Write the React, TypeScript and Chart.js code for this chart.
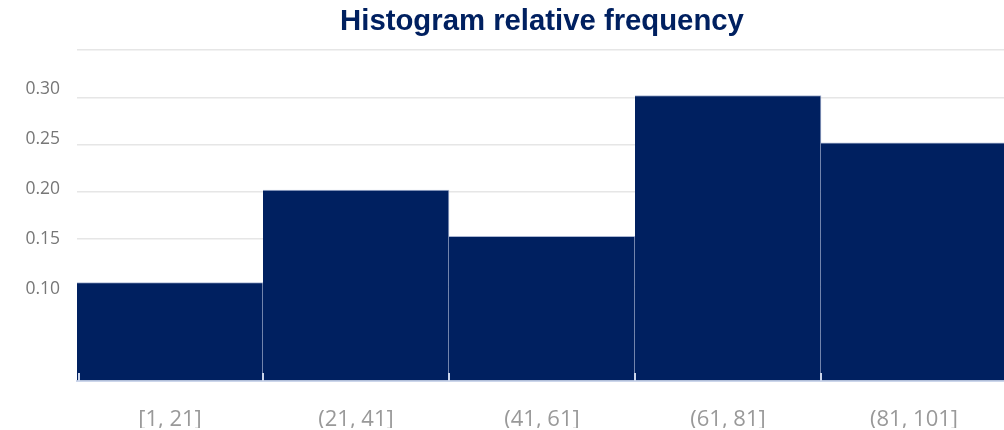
import React, { useEffect, useRef } from 'react';
import { Chart, registerables } from 'chart.js';

Chart.register(...registerables);

const categories = ['[1, 21]', '(21, 41]', '(41, 61]', '(61, 81]', '(81, 101]'];
const frequencies = [0.104, 0.202, 0.153, 0.302, 0.252];
const yTickLabels = [0.1, 0.15, 0.2, 0.25, 0.3];
const yMin = 0;
const yMax = 0.35;
const yStep = 0.05;
// label axis range (labels are spaced a little wider than the grid in the reference)
const labelAxisMin = 0.008;
const labelAxisMax = 0.339;

const navy = '#002060';
const axisColor = '#ccd6eb';

const insideTicks = {
  id: 'insideTicks',
  afterDraw(chart: any) {
    const xs = chart.scales.x;
    const ctx = chart.ctx;
    const half = (xs.getPixelForValue(1) - xs.getPixelForValue(0)) / 2;
    const y = chart.chartArea.bottom;
    ctx.save();
    ctx.strokeStyle = axisColor;
    ctx.lineWidth = 2;
    for (let i = 0; i <= categories.length; i++) {
      let px = xs.getPixelForValue(i) - half;
      if (i === 0) px += 2;
      ctx.beginPath();
      ctx.moveTo(px, y);
      ctx.lineTo(px, y - 8);
      ctx.stroke();
    }
    ctx.restore();
  },
};

export default function App() {
  const ref = useRef<HTMLCanvasElement | null>(null);
  useEffect(() => {
    document.body.style.margin = '0';
    document.body.style.overflow = 'hidden';
    const chart = new Chart(ref.current as HTMLCanvasElement, {
      type: 'bar',
      data: {
        labels: categories,
        datasets: [
          {
            data: frequencies,
            backgroundColor: navy,
            borderColor: 'rgba(150,165,200,0.8)',
            borderWidth: { top: 1, right: 1, left: 0, bottom: 0 },
            borderSkipped: false,
            categoryPercentage: 1,
            barPercentage: 1,
          },
        ],
      },
      options: {
        animation: false,
        responsive: true,
        maintainAspectRatio: false,
        layout: { padding: { left: 0, right: 0, top: 0, bottom: 2 } },
        plugins: {
          legend: { display: false },
          tooltip: { enabled: false },
          title: {
            display: true,
            fullSize: false,
            text: 'Histogram relative frequency',
            color: navy,
            font: { family: '"Liberation Sans", Arial, sans-serif', size: 29.3, weight: 'bold' },
            padding: { top: 4, bottom: 11 },
          },
        },
        scales: {
          x: {
            z: 1,
            grid: { display: false, drawTicks: false },
            border: { display: true, color: axisColor, width: 2 },
            ticks: {
              color: '#999999',
              font: { family: '"Open Sans", sans-serif', size: 22 },
              padding: 26,
            },
            afterFit: (s: any) => {
              s.height = 47;
            },
          },
          y: {
            position: 'left',
            min: yMin,
            max: yMax,
            grid: { color: '#e6e6e6', lineWidth: 1.5, drawTicks: false },
            border: { display: false },
            ticks: { stepSize: yStep, display: false },
            afterFit: (s: any) => {
              s.width = 0;
            },
          },
          yLabels: {
            position: 'left',
            min: labelAxisMin,
            max: labelAxisMax,
            grid: { display: false, drawTicks: false },
            border: { display: false },
            afterBuildTicks: (s: any) => {
              s.ticks = yTickLabels.map((v) => ({ value: v }));
            },
            ticks: {
              color: '#777777',
              font: { family: '"Open Sans", sans-serif', size: 17.5 },
              padding: 17,
              callback: (v: any) => Number(v).toFixed(2),
            },
            afterFit: (s: any) => {
              s.width = 77;
            },
          },
        },
      },
      plugins: [insideTicks],
    });
    return () => chart.destroy();
  }, []);
  return (
    <div style={{ position: 'fixed', left: 0, top: 0, width: 1007, height: 430, background: '#fff' }}>
      <canvas ref={ref} />
    </div>
  );
}
